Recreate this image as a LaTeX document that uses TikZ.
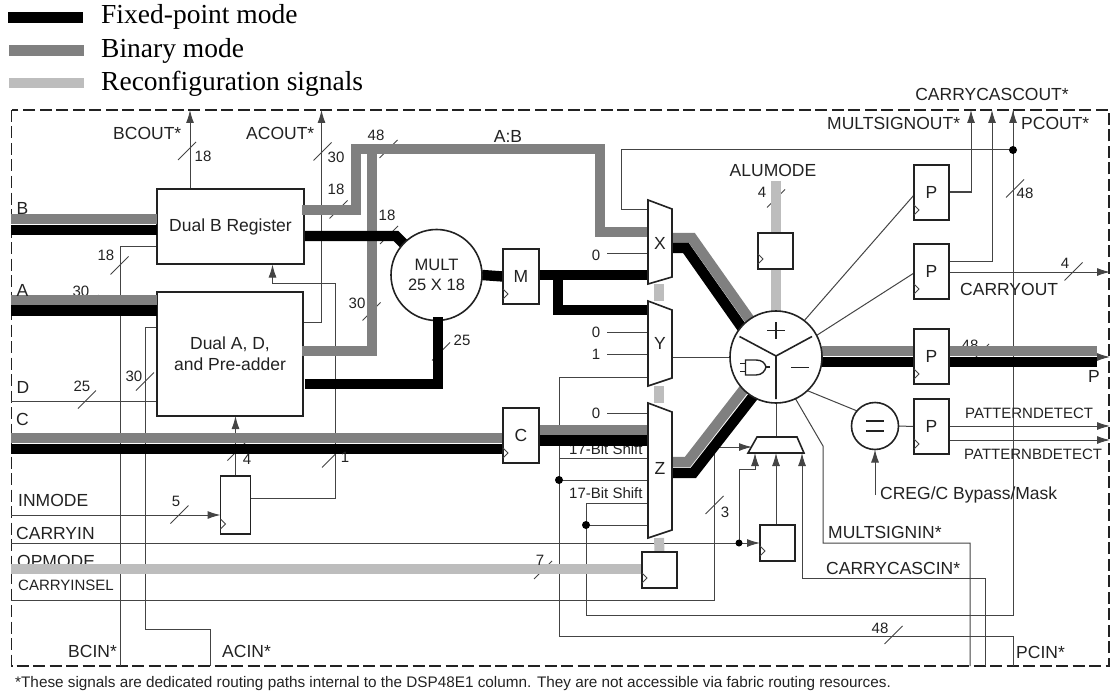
\documentclass[tikz,border=0pt]{standalone}
\usepackage{fontspec}
\setmainfont{Liberation Sans}
\newfontfamily\legendfont{Liberation Serif}
\usetikzlibrary{arrows.meta,calc}
\definecolor{wirec}{HTML}{444444}
\definecolor{inkc}{HTML}{222222}
\definecolor{greyband}{HTML}{808080}
\definecolor{lightband}{HTML}{BDBDBD}
\newcommand{\tk}[2]{\draw[tickst] (#1-9,#2+9) -- (#1+9,#2-9);}
\newcommand{\clk}[1]{\draw[clkst] ($(#1.south west)+(0,-15)$) -- ++(5,5) -- ++(-5,5);}
\tikzset{
  wire/.style={draw=wirec,line width=1pt},
  tickst/.style={draw=wirec,line width=0.9pt},
  clkst/.style={draw=wirec,line width=0.8pt},
  arr/.style={-{Latex[length=13pt,width=8pt]}},
  blackband/.style={draw=black,line width=10.4pt,line join=miter,line cap=butt},
  greyb/.style={draw=greyband,line width=10.4pt,line join=miter,line cap=butt},
  lightb/.style={draw=lightband,line width=10pt,line cap=butt},
  reg/.style={draw=inkc,fill=white,line width=1.6pt,inner sep=0pt,outer sep=0pt,text=inkc,font=\fontsize{17.5}{21}\selectfont},
  muxst/.style={draw=inkc,fill=white,line width=1.6pt,line join=miter},
  lab/.style={inner sep=0pt,text=inkc,font=\fontsize{17.5}{20}\selectfont},
  num/.style={inner sep=0pt,text=inkc,font=\fontsize{15}{17}\selectfont},
  sml/.style={inner sep=0pt,text=inkc,font=\fontsize{15}{17}\selectfont},
  leg/.style={inner sep=0pt,anchor=west,text=black,font=\legendfont\fontsize{27.5}{30}\selectfont},
  dotst/.style={circle,fill=black,inner sep=0pt,minimum size=8pt},
}
\begin{document}
\begin{tikzpicture}[x=1pt,y=-1pt]
\useasboundingbox (0,0) rectangle (1110,695);
% legend
\coordinate (la1) at (8,17.5); \coordinate (la2) at (83,17.5);
\coordinate (lb1) at (9,50.5); \coordinate (lb2) at (84,50.5);
\coordinate (lc1) at (9,83); \coordinate (lc2) at (84,83);
\draw[blackband] (la1) -- (la2);
\draw[greyb] (lb1) -- (lb2);
\draw[lightb] (lc1) -- (lc2);
\node[leg] (tfix) at (101,17) {Fixed-point mode};
\node[leg] (tbin) at (101,51) {Binary mode};
\node[leg] (trec) at (101,84) {Reconfiguration signals};
% frame
\draw[draw=inkc,line width=1.5pt,dash pattern=on 12pt off 4.5pt] (11.5,110) rectangle (1109,666);
% boxes defined first as coordinates for routing
\path
  (230.5,226.5) node[minimum width=147pt,minimum height=75pt,inner sep=0pt,outer sep=0pt] (dualB) {}
  (230,354) node[minimum width=146pt,minimum height=124pt,inner sep=0pt,outer sep=0pt] (dualA) {}
  (235.5,505) node[minimum width=30pt,minimum height=58pt,inner sep=0pt,outer sep=0pt] (inreg) {}
  (521,276.5) node[minimum width=36pt,minimum height=55pt,inner sep=0pt,outer sep=0pt] (Mreg) {}
  (521,435.5) node[minimum width=36pt,minimum height=55pt,inner sep=0pt,outer sep=0pt] (Creg) {}
  (659.5,570) node[minimum width=35pt,minimum height=36pt,inner sep=0pt,outer sep=0pt] (oreg) {}
  (777.5,543) node[minimum width=35pt,minimum height=36pt,inner sep=0pt,outer sep=0pt] (cireg) {}
  (775.5,251) node[minimum width=35pt,minimum height=36pt,inner sep=0pt,outer sep=0pt] (alureg) {}
  (931.5,192.5) node[minimum width=35pt,minimum height=55pt,inner sep=0pt,outer sep=0pt] (P1) {}
  (931.5,271.5) node[minimum width=35pt,minimum height=55pt,inner sep=0pt,outer sep=0pt] (P2) {}
  (931.5,356.5) node[minimum width=35pt,minimum height=55pt,inner sep=0pt,outer sep=0pt] (P3) {}
  (931.5,426.5) node[minimum width=35pt,minimum height=55pt,inner sep=0pt,outer sep=0pt] (P4) {}
  (436.5,275) node[circle,minimum size=91pt,inner sep=0pt,outer sep=0pt] (mult) {}
  (776,357) node[circle,minimum size=92pt,inner sep=0pt,outer sep=0pt] (alu) {}
  (875,426) node[circle,minimum size=47pt,inner sep=0pt,outer sep=0pt] (eq) {};
% named free ends
\coordinate (bcout) at (190,110);
\coordinate (acout) at (321.5,110);
\coordinate (bcin) at (120,666);
\coordinate (acin) at (210,666);
\coordinate (dIn) at (11,401);
\coordinate (inmodeIn) at (11,515);
\coordinate (cyinIn) at (11,543);
\coordinate (selIn) at (11,600);
\coordinate (msoutEnd) at (971,110);
\coordinate (ccoutEnd) at (992,110);
\coordinate (pcoutEnd) at (1013,110);
\coordinate (cyoutEnd) at (1110,272);
\coordinate (pdEnd) at (1110,426);
\coordinate (pbdEnd) at (1110,440);
\coordinate (pEnd) at (1110,357);
\coordinate (cregIn) at (875,495);
\coordinate (msinIn) at (970,666);
\coordinate (ccinIn) at (985,666);
\coordinate (pcinIn) at (1013,666);
\coordinate (fbdot) at (1013,150);
\coordinate (d1) at (559,480);
\coordinate (d2) at (586,525);
\coordinate (d3) at (739,543);
\coordinate (xI1) at (648,209);
\coordinate (xI0) at (648,253);
\coordinate (yI0) at (648,332);
\coordinate (yI1) at (648,354);
\coordinate (yI2) at (648,377);
\coordinate (zI0) at (648,413);
\coordinate (zI1) at (648,458);
\coordinate (zI2) at (648,480);
\coordinate (zI3) at (648,503);
\coordinate (zI4) at (648,525);
\coordinate (smL) at (752,447);
\coordinate (smA) at (755,453);
\coordinate (smB) at (776,453);
\coordinate (smC) at (802,453);
\coordinate (smT) at (776,437);
% hidden / partly hidden labels
\node[num] (n30a) at (81,291) {30};
\node[lab,anchor=west] (topm) at (17,561) {OPMODE};
\node[sml,anchor=west] (s17a) at (569,449) {17-Bit Shift};
\node[num] (n48p) at (970,345) {48};
% thin wires
\draw[wire,arr] (bcout |- dualB.north) -- (bcout);
\draw[wire,arr] (dualA.east |- 0,322) -| (acout);
\draw[wire] (dualB.west |- 0,246) -| (bcin);
\draw[wire] (dualA.west |- 0,327) -| (145,629) -| (acin);
\draw[wire] (dIn) -- (dIn -| dualA.west);
\draw[wire,arr] (inmodeIn) -- (inmodeIn -| inreg.west);
\draw[wire,arr] (inreg.north) -- (inreg.north |- dualA.south);
\draw[wire,arr] (inreg.east |- 0,498) -| (335,283) -| (272.5,264.5);
\draw[wire,arr] (cyinIn) -- (cyinIn -| cireg.west);
\draw[wire] (selIn) -| (714,447);
\draw[wire,arr] (714,447) -- (smL);
\draw[wire] (xI0) -- (607,253);
\draw[wire] (xI1) -| (621,150) -- (fbdot);
\draw[wire] (yI0) -- (607,332);
\draw[wire] (yI1) -- (607,354);
\draw[wire] (yI2) -| (559,636) -| (pcinIn);
\draw[wire] (zI0) -- (607,413);
\draw[wire] (zI1) -- (559,458);
\draw[wire] (zI2) -- (d1);
\draw[wire] (zI3) -| (586,615) -| (pcoutEnd);
\draw[wire,arr] (fbdot) -- (pcoutEnd);
\draw[wire] (zI4) -- (d2);
\draw[wire] (672,357) -- (alu.west);
\draw[wire] (alu.south) -- (smT);
\draw[wire,arr] (d3) |- (755,469) -- (smA);
\draw[wire,arr] (cireg.north -| smB) -- (smB);
\draw[wire,arr] (ccinIn) |- (802,578) -- (smC);
\draw[wire] (msinIn) |- (823,543) -- (823,446) -- (alu.-65);
\draw[wire] (alu.north east) ++(-12,5) -- (P1.west |- 0,195);
\draw[wire] (alu.28) -- (P2.west |- 0,273);
\draw[wire] (alu.-47) -- (eq.140);
\draw[wire] (eq.east) -- (P4.west);
\draw[wire,arr] (cregIn) -- (eq.south);
\draw[wire,arr] (P1.east |- 0,192) -| (msoutEnd);
\draw[wire,arr] (P2.east |- 0,261) -| (ccoutEnd);
\draw[wire,arr] (P2.east |- 0,272) -- (cyoutEnd);
\draw[wire,arr] (P4.east |- 0,426) -- (pdEnd);
\draw[wire,arr] (P4.east |- 0,440) -- (pbdEnd);
\draw[wire,arr] (P3.east |- 0,357) -- (pEnd);
% ticks
\tk{187}{151}\tk{322.5}{151.5}\tk{119.5}{265.5}\tk{145}{381.5}
\tk{87}{399.5}\tk{90}{304}\tk{179.5}{514.5}\tk{236.5}{451.5}\tk{331}{458.5}
\tk{338.5}{209.5}\tk{371.5}{311.5}\tk{388.5}{149}\tk{389}{235}\tk{441}{351.5}
\tk{543}{570}\tk{714.5}{505}\tk{776}{198.5}\tk{1015}{188.5}\tk{1073.5}{271.5}
\tk{893.5}{635}\tk{980}{353}
% light bars
\draw[lightb] (659,284) -- (659,301);
\draw[lightb] (659,386) -- (659,403);
\draw[lightb] (659,538) -- (oreg.north);
\draw[lightb] (776,181) -- (alu.north);
\draw[lightb] (11,568.5) -- (oreg.west |- 0,568.5);
% registers
\node[reg,minimum width=147pt,minimum height=75pt] (dualBd) at (dualB) {Dual B Register};
\node[reg,minimum width=146pt,minimum height=124pt,align=center] (dualAd) at (dualA) {Dual A, D,\\and Pre-adder};
\node[reg,minimum width=30pt,minimum height=58pt] (inregd) at (inreg) {};
\clk{inreg}
% grey bars
\draw[greyb] (11,219) -- (dualB.west |- 0,219);
\draw[greyb] (11,300) -- (dualA.west |- 0,300);
\draw[greyb] (11,438) -- (Creg.west |- 0,438);
\draw[greyb] (Creg.east |- 0,430) -- (zI1 |- 0,430);
\draw[greyb] (302,351) -| (372,149);
\draw[greyb] (302,210) -| (356,144);
\draw[greyb] (351,149) -| (600,232) -- (648,232);
\draw[greyb] (672,238) -- (692,238) -- (752,323) -- (760,335);
\draw[greyb] (672,462) -- (687.5,462) -- (756.5,373);
\draw[greyb] (alu.east |- 0,351) -- (P3.west |- 0,351);
\draw[greyb] (P3.east |- 0,351) -- (1097,351);
% black bars
\draw[blackband] (11,230) -- (dualB.west |- 0,230);
\draw[blackband] (11,310.5) -- (dualA.west |- 0,310.5);
\draw[blackband] (11,449) -- (Creg.west |- 0,449);
\draw[blackband] (Creg.east |- 0,440.5) -- (zI1 |- 0,440.5);
\draw[blackband] (305,236) -- (396,236) -- (408,248);
\draw[blackband] (mult.east) -- (Mreg.west);
\draw[blackband] (Mreg.east |- 0,275) -- (648,275);
\draw[blackband] (558,275) -- (558,310) -- (648,310);
\draw[blackband] (672,248) -- (685.9,248) -- (745,332) -- (752,342);
\draw[blackband] (672,473) -- (693.3,473) -- (762,385);
\draw[blackband] (alu.east |- 0,362) -- (P3.west |- 0,362);
\draw[blackband] (P3.east |- 0,362) -- (1097,362);
\draw[blackband] (305,384) -- (438,384) -- (438,330);
% muxes
\draw[muxst] (648,200) -- (672,209) -- (672,277) -- (648,284) -- cycle;
\draw[muxst] (648,301) -- (672,310) -- (672,378) -- (648,386) -- cycle;
\draw[muxst] (648,403) -- (672,412) -- (672,530) -- (648,538) -- cycle;
\draw[muxst] (757,437) -- (797,437) -- (804,453) -- (748,453) -- cycle;
\node[lab] (lX) at (660,243) {X};
\node[lab] (lY) at (660,343) {Y};
\node[lab] (lZ) at (660,468) {Z};
% other registers
\node[reg,minimum width=36pt,minimum height=55pt] (Mregd) at (Mreg) {M}; \clk{Mreg}
\node[reg,minimum width=36pt,minimum height=55pt] (Cregd) at (Creg) {C}; \clk{Creg}
\node[reg,minimum width=35pt,minimum height=36pt] (oregd) at (oreg) {}; \clk{oreg}
\node[reg,minimum width=35pt,minimum height=36pt] (ciregd) at (cireg) {}; \clk{cireg}
\node[reg,minimum width=35pt,minimum height=36pt] (aluregd) at (alureg) {}; \clk{alureg}
\node[reg,minimum width=35pt,minimum height=55pt] (P1d) at (P1) {P}; \clk{P1}
\node[reg,minimum width=35pt,minimum height=55pt] (P2d) at (P2) {P}; \clk{P2}
\node[reg,minimum width=35pt,minimum height=55pt] (P3d) at (P3) {P}; \clk{P3}
\node[reg,minimum width=35pt,minimum height=55pt] (P4d) at (P4) {P}; \clk{P4}
% circles
\node[reg,circle,minimum size=91pt,align=center,font=\fontsize{16.5}{20.5}\selectfont] (multd) at (mult) {MULT\\25 X 18};
\draw[blackband] (438,340) -- (438,317);
\node[reg,circle,minimum size=92pt] (alud) at (alu) {};
\node[reg,circle,minimum size=47pt] (eqd) at (eq) {};
\draw[draw=inkc,line width=1.8pt] (866,421) -- (884,421) (866,431) -- (884,431);
% ALU glyphs
\draw[draw=inkc,line width=1.6pt] (776,356) -- (739.5,336.5) (776,356) -- (812,336.5) (776,356) -- (776,399);
\draw[draw=inkc,line width=1.6pt] (776,322) -- (776,339) (767,330.5) -- (785,330.5);
\draw[draw=inkc,line width=1.6pt] (791,367.5) -- (809,367.5);
\draw[draw=inkc,line width=1.4pt] (745.5,360) -- (756,360) .. controls (762,360) and (765,363) .. (766,367) .. controls (765,371) and (762,375) .. (756,375) -- (745.5,375) -- cycle;
\draw[draw=inkc,line width=1.2pt] (740,363.5) -- (745.5,363.5) (740,371.5) -- (745.5,371.5) (766,367) -- (770,367);
% dots
\node[dotst] (dd0) at (fbdot) {};
\node[dotst] (dd1) at (d1) {};
\node[dotst] (dd2) at (d2) {};
\node[dotst,minimum size=7pt] (dd3) at (d3) {};
% labels
\node[lab,anchor=west] (tbcout) at (113,133) {BCOUT*};
\node[lab,anchor=west] (tacout) at (246,133) {ACOUT*};
\node[num] (n18a) at (203,156) {18};
\node[num] (n30b) at (336,157) {30};
\node[num] (n18b) at (336,189) {18};
\node[num] (n48a) at (376,135) {48};
\node[lab] (tab) at (508,136) {A:B};
\node[num] (n18c) at (387,215) {18};
\node[num] (n30c) at (357,303) {30};
\node[num] (n25a) at (462,340) {25};
\node[num] (n18d) at (106,255) {18};
\node[lab] (tb) at (22.5,208) {B};
\node[lab] (ta) at (22.5,290) {A};
\node[lab] (td) at (23,387) {D};
\node[lab] (tc) at (22.5,419) {C};
\node[num] (n25b) at (82,386) {25};
\node[num] (n30d) at (134,376) {30};
\node[num] (n4a) at (247,459) {4};
\node[num] (n1a) at (345,457) {1};
\node[num] (n5a) at (176,501) {5};
\node[num] (n7a) at (540,560) {7};
\node[num] (n3a) at (725,512) {3};
\node[num] (z1) at (596,255) {0};
\node[num] (z2) at (596,332) {0};
\node[num] (z3) at (596,354) {1};
\node[num] (z4) at (596,413) {0};
\node[sml,anchor=west] (s17b) at (569,493) {17-Bit Shift};
\node[lab,anchor=west] (tinm) at (18,500) {INMODE};
\node[lab,anchor=west] (tcyin) at (16,533) {CARRYIN};
\node[sml,anchor=west] (tsel) at (18,585) {CARRYINSEL};
\node[lab,anchor=west] (tbcin) at (68,651) {BCIN*};
\node[lab,anchor=west] (tacin) at (222,651) {ACIN*};
\node[lab] (talu) at (773,170) {ALUMODE};
\node[num] (n4b) at (762,192) {4};
\node[lab] (tcco) at (992,94) {CARRYCASCOUT*};
\node[lab,anchor=west] (tmso) at (827,123) {MULTSIGNOUT*};
\node[lab,anchor=west] (tpco) at (1021,123) {PCOUT*};
\node[num] (n48b) at (1025,193) {48};
\node[num] (n4c) at (1065,263) {4};
\node[lab,anchor=west] (tcyo) at (960,289) {CARRYOUT};
\node[lab] (tp) at (1094,376) {P};
\node[sml,anchor=west] (tpd) at (965,413) {PATTERNDETECT};
\node[sml,anchor=west] (tpbd) at (964,454) {PATTERNBDETECT};
\node[lab,anchor=west] (tcreg) at (880,495) {CREG/C Bypass/Mask};
\node[lab,anchor=west] (tmsi) at (828,532) {MULTSIGNIN*};
\node[lab,anchor=west] (tcci) at (826,568) {CARRYCASCIN*};
\node[num] (n48c) at (880,628) {48};
\node[lab,anchor=west] (tpci) at (1016,652) {PCIN*};
\node[inner sep=0pt,anchor=west,text=inkc,font=\fontsize{15.3}{17}\selectfont] (foot) at (15,684) {*These signals are dedicated routing paths internal to the DSP48E1 column. They are not accessible via fabric routing resources.};
\end{tikzpicture}
\end{document}
